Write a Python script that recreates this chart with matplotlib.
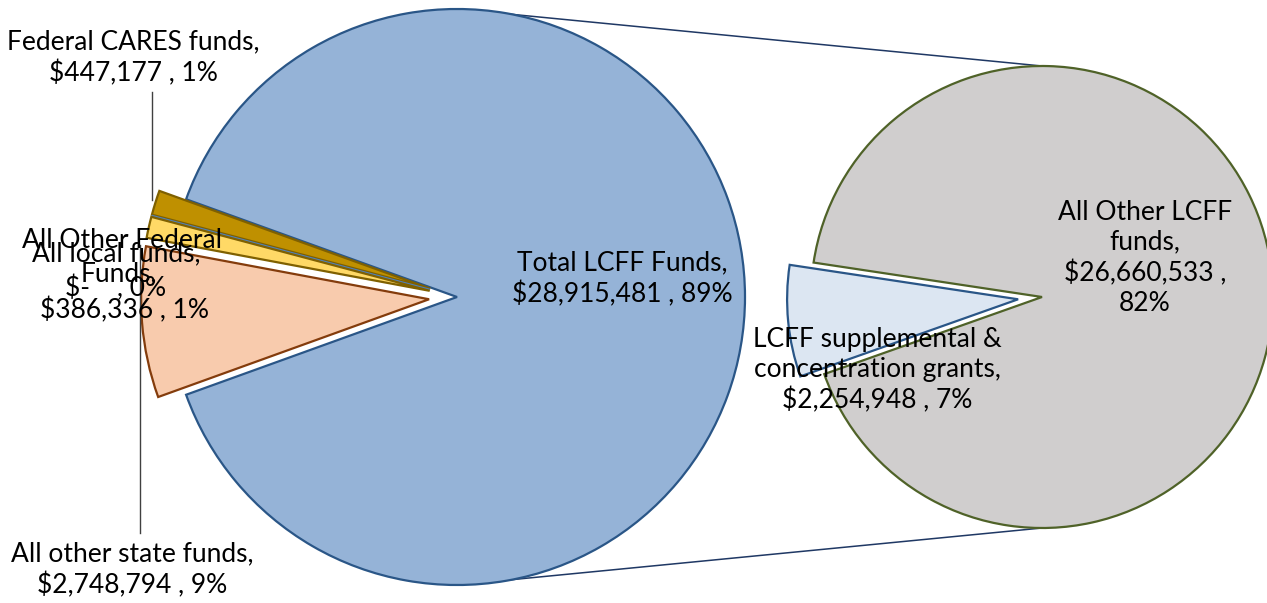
import matplotlib
matplotlib.use('Agg')
import matplotlib.pyplot as plt

plt.rcParams.update({'font.family': ['Lato', 'DejaVu Sans'], 'font.size': 19})

# main pie (order: counter-clockwise from the lower edge of the LCFF slice)
main_names = ['Total LCFF Funds', 'Federal CARES funds', 'All Other Federal Funds',
              'All local funds', 'All other state funds']
main_vals = [28915481, 447177, 0, 386336, 2748794]
main_fill = ['#95B3D7', '#BF9000', '#FFD966', '#FFD966', '#F8CBAD']
main_edge = ['#2A5687', '#7F6000', '#4F81BD', '#7F6000', '#843C0C']

# secondary pie: breakdown of the LCFF slice
sub_names = ['All Other LCFF funds', 'LCFF supplemental & concentration grants']
sub_vals = [26660533, 2254948]
sub_fill = ['#D0CECE', '#DCE6F2']
sub_edge = ['#4F6228', '#2A5687']

W, H = 1267, 603
fig = plt.figure(figsize=(W / 100, H / 100), dpi=100)
ax = fig.add_axes([0, 0, 1, 1])

c1, r1 = (457, H - 297), 288
c2, r2 = (1042, H - 297), 231

# explode offsets are in data (pixel) units here
share = main_vals[0] / sum(main_vals) * 360
w1, _ = ax.pie(main_vals, radius=r1, center=c1, startangle=-share / 2,
               explode=[0, 28, 28, 28, 28], colors=main_fill,
               wedgeprops=dict(linewidth=1.6), frame=True)
for w, e in zip(w1, main_edge):
    w.set_edgecolor(e)
w2, _ = ax.pie(sub_vals, radius=r2, center=c2, startangle=199.5,
               explode=[0, 24], colors=sub_fill,
               wedgeprops=dict(linewidth=1.6), frame=True)
for w, e in zip(w2, sub_edge):
    w.set_edgecolor(e)
ax.set_xlim(0, W); ax.set_ylim(0, H); ax.set_aspect('equal'); ax.axis('off')

# connector lines between the two pies
for s in (1, -1):
    ax.plot([c1[0], c2[0]], [c1[1] + s * r1, c2[1] + s * r2], color='#1F3864', lw=1.1, zorder=0)

# leader lines
ax.plot([152, 152], [H - 92, H - 200], color='#404040', lw=1)
ax.plot([140, 140], [H - 245, H - 533], color='#404040', lw=1)

kw = dict(ha='center', va='center', linespacing=1.25)
ax.text(133, H - 58, 'Federal CARES funds,\n$447,177 , 1%', **kw)
ax.text(132, H - 570, 'All other state funds,\n$2,748,794 , 9%', **kw)
ax.text(622, H - 279, 'Total LCFF Funds,\n$28,915,481 , 89%', **kw)
ax.text(877, H - 370, 'LCFF supplemental &\nconcentration grants,\n$2,254,948 , 7%', **kw)
ax.text(1145, H - 258, 'All Other LCFF\nfunds,\n$26,660,533 ,\n82%', **kw)
# overlapping labels of the two tiny slices (they overlap in the original too)
ax.text(122, H - 240, 'All Other Federal', **kw)
ax.text(119, H - 274, 'Funds,', **kw)
ax.text(116, H - 288, '$-    , 0%', **kw)
ax.text(116, H - 254, 'All local funds,', **kw)
ax.text(125, H - 310, '$386,336 , 1%', **kw)

fig.savefig('out.png', dpi=100)
